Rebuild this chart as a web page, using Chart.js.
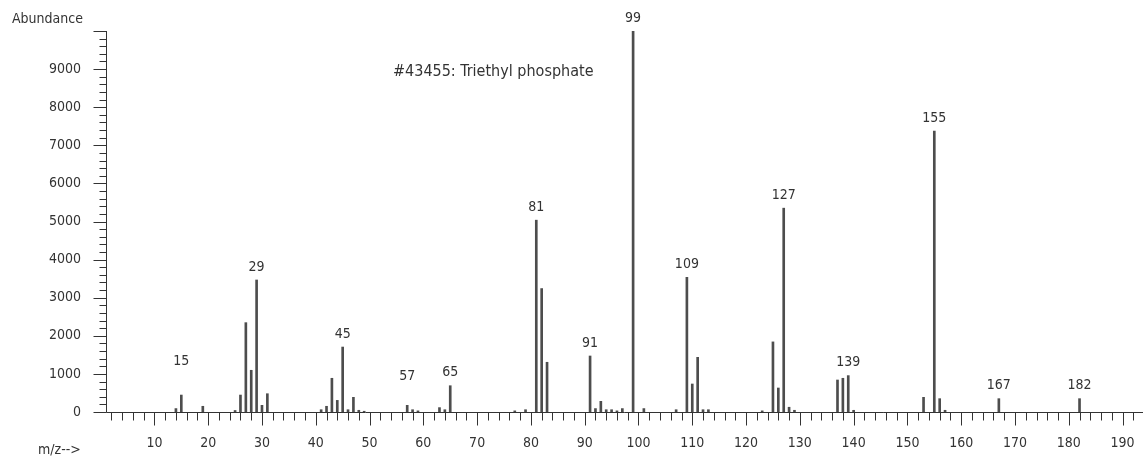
<!DOCTYPE html>
<html>
<head>
<meta charset="utf-8">
<script src="https://cdn.jsdelivr.net/npm/chart.js@4/dist/chart.umd.min.js"></script>
<style>
  body { margin: 0; background: #fff; }
</style>
</head>
<body>
<canvas id="spectrum" width="1143" height="457"></canvas>
<script>
// mass spectrum, values
var mz = [14, 15, 19, 25, 26, 27, 28, 29, 30, 31,
  41, 42, 43, 44, 45, 46, 47, 48, 49,
  57, 58, 59, 63, 64, 65, 77, 79, 81, 82, 83,
  91, 92, 93, 94, 95, 96, 97, 99, 101,
  107, 109, 110, 111, 112, 113, 123, 125, 126, 127, 128, 129,
  137, 138, 139, 140, 153, 155, 156, 157, 167, 182];
var abundance = [90, 445, 150, 40, 445, 2345, 1095, 3465, 175, 480,
  60, 150, 885, 305, 1705, 60, 385, 45, 20,
  175, 60, 30, 115, 60, 690, 30, 60, 5035, 3240, 1305,
  1470, 90, 280, 60, 60, 30, 90, 10000, 90,
  60, 3535, 735, 1435, 60, 60, 30, 1840, 630, 5350, 125, 45,
  840, 885, 955, 45, 385, 7370, 350, 45, 350, 350];
var labelledPeaks = [15, 29, 45, 57, 65, 81, 91, 99, 109, 127, 139, 155, 167, 182];
var yTickLabels = [0, 1000, 2000, 3000, 4000, 5000, 6000, 7000, 8000, 9000];
var xTickLabels = [10, 20, 30, 40, 50, 60, 70, 80, 90, 100, 110, 120, 130, 140, 150, 160, 170, 180, 190];
var spectrumTitle = '#43455: Triethyl phosphate';

var FONT = "'Liberation Sans Narrow', 'DejaVu Sans Condensed', 'Liberation Sans', sans-serif";
Chart.defaults.font.family = FONT;

var points = mz.map(function (m, i) { return { x: m, y: abundance[i] }; });

// ticks, axis lines and the text around the plot
var decorations = {
  id: 'decorations',
  afterDraw: function (chart) {
    var ctx = chart.ctx;
    var xs = chart.scales.x, ys = chart.scales.y;
    var area = chart.chartArea;
    var left = Math.round(area.left) + 0.5;
    var base = Math.round(ys.getPixelForValue(0)) + 0.5;
    ctx.save();
    ctx.strokeStyle = '#333';
    ctx.lineWidth = 1;
    ctx.beginPath();
    ctx.moveTo(left, Math.round(ys.getPixelForValue(10000)));
    ctx.lineTo(left, base);
    ctx.moveTo(left, base);
    ctx.lineTo(area.right, base);
    // y ticks every 200
    for (var v = 0; v <= 10000; v += 200) {
      var py = Math.round(ys.getPixelForValue(v)) + 0.5;
      var len = v % 1000 === 0 ? 13 : 7;
      ctx.moveTo(left - len, py);
      ctx.lineTo(left, py);
    }
    // x ticks every 2
    for (var m = 2; m <= 192; m += 2) {
      var px = Math.round(xs.getPixelForValue(m)) + 0.5;
      var tl = m % 10 === 0 ? 13 : 8;
      ctx.moveTo(px, base);
      ctx.lineTo(px, base + tl);
    }
    ctx.stroke();

    // peak labels
    ctx.fillStyle = '#333';
    ctx.font = '14px ' + FONT;
    ctx.textAlign = 'center';
    ctx.textBaseline = 'middle';
    var lift = { 15: 21, 57: 16 };
    labelledPeaks.forEach(function (p) {
      var i = mz.indexOf(p);
      var x = xs.getPixelForValue(p);
      var y = ys.getPixelForValue(abundance[i]) - 13 - (lift[p] || 0);
      ctx.fillText(String(p), x, y);
    });

    ctx.textAlign = 'left';
    ctx.font = '14px ' + FONT;
    ctx.fillText('Abundance', 12, 19);
    ctx.fillText('m/z-->', 38, 450);

    ctx.textBaseline = 'alphabetic';
    ctx.font = '16px ' + FONT;
    ctx.fillText(spectrumTitle, 393, 76);
    ctx.restore();
  }
};

new Chart(document.getElementById('spectrum'), {
  type: 'bar',
  data: {
    datasets: [{
      label: 'Abundance',
      data: points,
      backgroundColor: '#4d4d4d',
      barThickness: 2,
      borderWidth: 0
    }]
  },
  options: {
    responsive: false,
    animation: false,
    layout: { padding: { top: 31, right: 0, left: 0, bottom: 0 } },
    plugins: {
      legend: { display: false },
      tooltip: { enabled: false }
    },
    scales: {
      x: {
        type: 'linear',
        offset: false,
        min: 1,
        max: 193.8,
        grid: { display: false, drawTicks: false, offset: false },
        border: { display: false },
        ticks: {
          stepSize: 10,
          includeBounds: false,
          autoSkip: false,
          maxRotation: 0,
          padding: 23,
          color: '#333',
          font: { size: 14 },
          callback: function (v) { return xTickLabels.indexOf(v) >= 0 ? String(v) : ''; }
        },
        afterFit: function (scale) {
          scale.height = 45;
          scale.paddingLeft = 0;
          scale.paddingRight = 0;
        }
      },
      y: {
        min: 0,
        max: 10000,
        grid: { display: false, drawTicks: false },
        border: { display: false },
        ticks: {
          stepSize: 1000,
          padding: 25,
          color: '#333',
          font: { size: 14 },
          callback: function (v) { return yTickLabels.indexOf(v) >= 0 ? String(v) : ''; }
        },
        afterFit: function (scale) {
          scale.width = 106;
          scale.paddingTop = 0;
          scale.paddingBottom = 0;
        }
      }
    }
  },
  plugins: [decorations]
});
</script>
</body>
</html>
